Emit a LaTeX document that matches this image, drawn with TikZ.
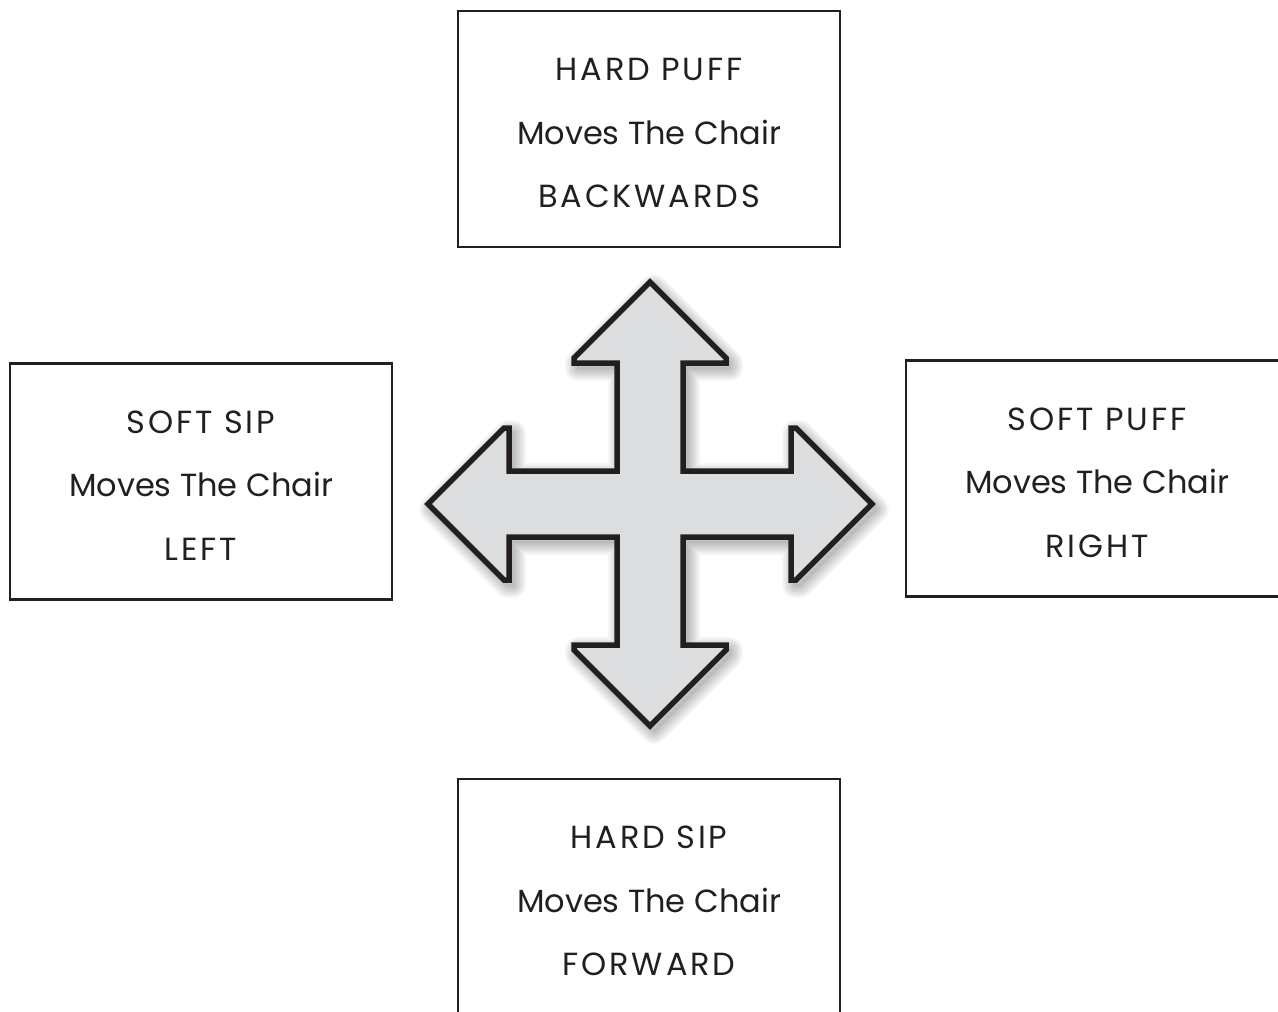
\documentclass[tikz,border=0pt]{standalone}
\usepackage{fontspec}
\setmainfont{Poppins}
\usetikzlibrary{calc}

\definecolor{ink}{HTML}{231F20}
\definecolor{arrowfill}{HTML}{DCDDDF}

% upper-case lines are set a little wider
\newcommand{\capsline}[1]{{\addfontfeatures{LetterSpace=9}#1}}

\tikzset{
  cmdbox/.style={draw=ink, line width=2.6bp, fill=white, minimum width=382bp,
    minimum height=236bp, inner sep=0pt},
  cmdtext/.style={align=center, text=ink, inner sep=0pt, yshift=-4bp,
    font=\fontsize{32bp}{63.5bp}\selectfont},
  crossline/.style={draw=ink, line width=5.5bp, line join=miter, fill=arrowfill},
}

% outline of the four-way arrow, centred on the origin
\newcommand{\crosspath}{%
  (0,-222) -- (76,-146) -- (76,-141) -- (33,-141) -- (33,-33) -- (141,-33) --
  (141,-76) -- (146,-76) -- (222,0) -- (146,76) -- (141,76) -- (141,33) --
  (33,33) -- (33,141) -- (76,141) -- (76,146) -- (0,222) -- (-76,146) --
  (-76,141) -- (-33,141) -- (-33,33) -- (-141,33) -- (-141,76) -- (-146,76) --
  (-222,0) -- (-146,-76) -- (-141,-76) -- (-141,-33) -- (-33,-33) --
  (-33,-141) -- (-76,-141) -- (-76,-146) -- cycle}

\begin{document}
\begin{tikzpicture}[x=1bp, y=-1bp]
  \useasboundingbox (0,0) rectangle (1278,1012);
  \fill[white] (0,0) rectangle (1278,1012);

  % soft shadow around the arrow
  \begin{scope}[shift={(654,509)}]
    \foreach \w in {2,5,...,26}
      \draw[black, opacity=0.03, line width=\w bp, line join=round] \crosspath;
  \end{scope}

  % the arrow itself
  \begin{scope}[shift={(650,504)}]
    \path[crossline] \crosspath;
  \end{scope}

  % command boxes
  \node[cmdbox] (back)  at (649,129)    {};
  \node[cmdbox] (left)  at (201,481.5)  {};
  \node[cmdbox] (right) at (1097,478.5) {};
  \node[cmdbox] (fwd)   at (649,897)    {};

  % their texts
  \node[cmdtext] (backtxt)  at (back.center)
    {\capsline{HARD PUFF}\\Moves The Chair\\\capsline{BACKWARDS}};
  \node[cmdtext] (lefttxt)  at (left.center)
    {\capsline{SOFT SIP}\\Moves The Chair\\\capsline{LEFT}};
  \node[cmdtext] (righttxt) at (right.center)
    {\capsline{SOFT PUFF}\\Moves The Chair\\\capsline{RIGHT}};
  \node[cmdtext] (fwdtxt)   at (fwd.center)
    {\capsline{HARD SIP}\\Moves The Chair\\\capsline{FORWARD}};
\end{tikzpicture}
\end{document}
